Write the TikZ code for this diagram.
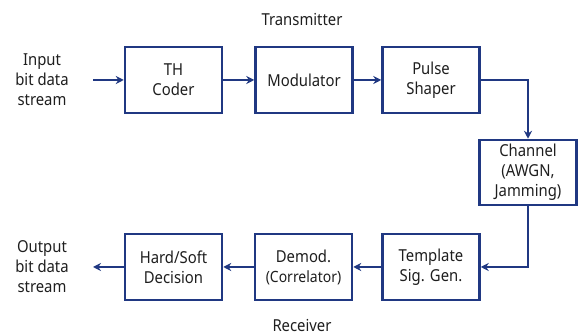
\documentclass[tikz,border=0pt]{standalone}
\usepackage{fontspec}
\setmainfont[FakeStretch=0.9]{Noto Sans}
\usetikzlibrary{arrows.meta}
\definecolor{linkblue}{RGB}{32,56,130}
\definecolor{txtgray}{RGB}{30,30,30}
\begin{document}
\begin{tikzpicture}[x=1pt,y=-1pt,
  blk/.style={draw=linkblue,line width=2.5pt,minimum width=97pt,minimum height=66pt,
    align=center,font=\fontsize{16.5}{20}\selectfont,text=txtgray,inner sep=0pt},
  lbl/.style={align=center,font=\fontsize{16.5}{20}\selectfont,text=txtgray,inner sep=0pt},
  conn/.style={draw=linkblue,line width=2.5pt,-{Stealth[length=8pt,width=8pt]}}]
\useasboundingbox (0,0) rectangle (582,336);
% transmitter chain
\node[blk] (th) at (173.5,80) {TH\\Coder};
\node[blk] (mod) at (304,80) {Modulator};
\node[blk] (ps) at (431,80) {Pulse\\Shaper};
% channel
\node[blk,minimum height=65pt] (ch) at (528,172.5) {Channel\\(AWGN,\\Jamming)};
% receiver chain
\node[blk] (tsg) at (431,267) {Template\\Sig. Gen.};
\node[blk] (dem) at (303.5,267) {Demod.\\{\fontsize{15.5}{20}\selectfont(Correlator)}};
\node[blk] (hs) at (173.5,267) {Hard/Soft\\Decision};
% outer labels
\node[lbl] (in) at (42,80) {Input\\bit data\\stream};
\node[lbl] (out) at (42,267) {Output\\bit data\\stream};
\node[lbl] (tx) at (302,20) {Transmitter};
\node[lbl] (rx) at (302,326) {Receiver};
\coordinate (inend) at (93,80);
\coordinate (outend) at (93,267);
% connectors
\draw[conn] (inend) -- (th);
\draw[conn] (th) -- (mod);
\draw[conn] (mod) -- (ps);
\draw[conn] (ps.east) -| (ch.north);
\draw[conn] (ch.south) |- (tsg.east);
\draw[conn] (tsg) -- (dem);
\draw[conn] (dem) -- (hs);
\draw[conn] (hs) -- (outend);
\end{tikzpicture}
\end{document}
